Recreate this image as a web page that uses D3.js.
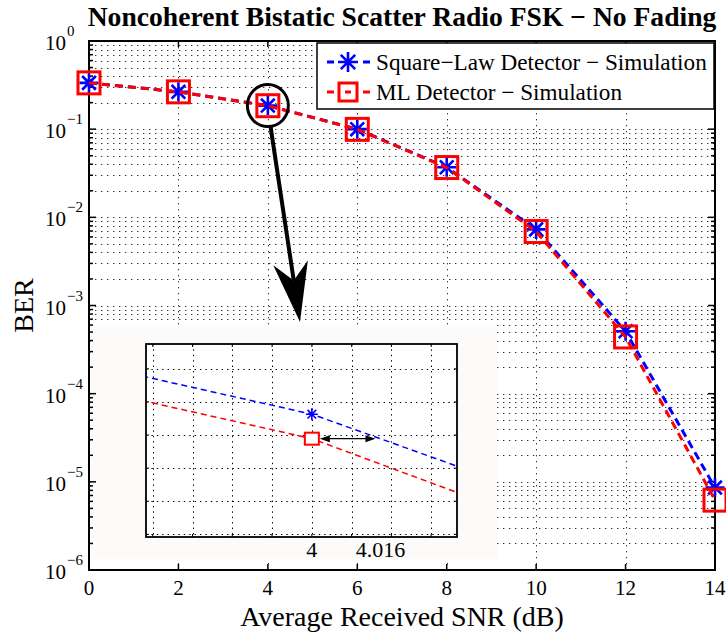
<!DOCTYPE html>
<html>
<head>
<meta charset="utf-8">
<script src="https://cdn.jsdelivr.net/npm/d3@7/dist/d3.min.js"></script>
<style>
  body { margin: 0; background: #fff; }
  svg { display: block; font-family: "Liberation Serif", "Times New Roman", serif; }
</style>
</head>
<body>
<svg id="chart" width="726" height="635"></svg>
<script>
// Average received SNR (dB) at which each receiver was simulated
const snr = [0, 2, 4, 6, 8, 10, 12, 14];
// Bit error rate, square-law detector
const berSquareLaw = [0.335, 0.265, 0.185, 0.100, 0.0370, 0.0073, 5.1e-4, 8.6e-6];
// Bit error rate, ML detector
const berML = [0.335, 0.265, 0.1845, 0.0995, 0.0367, 0.0069, 4.4e-4, 6.2e-6];

const xTickValues = [0, 2, 4, 6, 8, 10, 12, 14];
const yDecadeExponents = [-6, -5, -4, -3, -2, -1, 0];

// Close-up around 4 dB
const insetSnr = [3.95, 4, 4.04];
const insetSquareLaw = [0.18698, 0.18563, 0.18391];
const insetML = [0.18624, 0.18489, 0.18311];
const insetMarkerSnr = 4;
const insetLabelValues = [4, 4.016];

const seriesNames = ["Square\u2212Law Detector \u2212 Simulation", "ML Detector \u2212 Simulation"];
const titleText = "Noncoherent Bistatic Scatter Radio FSK \u2212 No Fading";

const BLUE = "#0000ff", RED = "#ff0000";
const svg = d3.select("#chart");

const plot = { left: 89, right: 715, top: 41, bottom: 570 };
const x = d3.scaleLinear().domain([0, 14]).range([plot.left, plot.right]);
const y = d3.scaleLog().domain([1e-6, 1]).range([plot.bottom, plot.top]);

// ---- dotted grid ----
const gridY = [];
yDecadeExponents.slice(0, -1).forEach(e => {
  for (let m = 1; m < 10; m++) gridY.push(m * Math.pow(10, e));
});
gridY.push(1);
const grid = svg.append("g").attr("stroke", "#333").attr("stroke-width", 1)
  .attr("stroke-dasharray", "1.4,4.6");
grid.selectAll("line.gy").data(gridY.filter(v => v > 1e-6 && v < 1)).join("line")
  .attr("x1", plot.left).attr("x2", plot.right)
  .attr("y1", d => Math.round(y(d)) + 0.5).attr("y2", d => Math.round(y(d)) + 0.5);
grid.selectAll("line.gx").data(xTickValues.slice(1, -1)).join("line")
  .attr("x1", d => Math.round(x(d)) + 0.5).attr("x2", d => Math.round(x(d)) + 0.5)
  .attr("y1", plot.top).attr("y2", plot.bottom);

// ---- inset backdrop ----
const insetBg = { x: 91, y: 325, w: 406, h: 234 };
svg.append("rect").attr("x", insetBg.x).attr("y", insetBg.y)
  .attr("width", insetBg.w).attr("height", insetBg.h).attr("fill", "#fcfbf9");

// ---- axes box and ticks ----
const axes = svg.append("g").attr("stroke", "#000").attr("stroke-width", 1.5);
axes.append("rect").attr("x", plot.left).attr("y", plot.top)
  .attr("width", plot.right - plot.left).attr("height", plot.bottom - plot.top)
  .attr("fill", "none").attr("stroke-width", 2);
const majorY = yDecadeExponents.map(e => Math.pow(10, e));
gridY.forEach(v => {
  const len = majorY.some(m => Math.abs(Math.log10(m) - Math.log10(v)) < 1e-9) ? 7 : 4;
  const yy = y(v);
  axes.append("line").attr("x1", plot.left).attr("x2", plot.left + len).attr("y1", yy).attr("y2", yy);
  axes.append("line").attr("x1", plot.right).attr("x2", plot.right - len).attr("y1", yy).attr("y2", yy);
});
xTickValues.forEach(v => {
  const xx = x(v);
  axes.append("line").attr("x1", xx).attr("x2", xx).attr("y1", plot.bottom).attr("y2", plot.bottom - 6);
  axes.append("line").attr("x1", xx).attr("x2", xx).attr("y1", plot.top).attr("y2", plot.top + 6);
});

// tick labels
svg.append("g").selectAll("text").data(xTickValues).join("text")
  .attr("x", d => x(d)).attr("y", plot.bottom + 25)
  .attr("text-anchor", "middle").attr("font-size", 21).text(d => d);

const yl = svg.append("g");
yDecadeExponents.forEach(e => {
  const yy = y(Math.pow(10, e));
  yl.append("text").attr("x", 66).attr("y", yy + 9).attr("text-anchor", "end")
    .attr("font-size", 21).text("10");
  yl.append("text").attr("x", 67).attr("y", yy - 5).attr("font-size", 15)
    .text(e < 0 ? "\u2212" + Math.abs(e) : String(e));
});

// axis titles
svg.append("text").attr("x", (plot.left + plot.right) / 2).attr("y", 626)
  .attr("text-anchor", "middle").attr("font-size", 28).text("Average Received SNR (dB)");
svg.append("text").attr("transform", `translate(33,${(plot.top + plot.bottom) / 2}) rotate(-90)`)
  .attr("text-anchor", "middle").attr("font-size", 28).text("BER");
svg.append("text").attr("x", (plot.left + plot.right) / 2).attr("y", 26)
  .attr("text-anchor", "middle").attr("font-size", 27.6).attr("font-weight", "bold").text(titleText);

// ---- markers ----
function starPath(s) {
  const d = s * 0.72;
  return `M${-s},0L${s},0M0,${-s}L0,${s}M${-d},${-d}L${d},${d}M${-d},${d}L${d},${-d}`;
}

// ---- data series ----
const line = d3.line().x((d, i) => x(snr[i])).y(d => y(d));
svg.append("path").datum(berSquareLaw).attr("d", line).attr("fill", "none")
  .attr("stroke", BLUE).attr("stroke-width", 3).attr("stroke-dasharray", "8,5");
svg.append("g").selectAll("path").data(berSquareLaw).join("path")
  .attr("transform", (d, i) => `translate(${x(snr[i])},${y(d)})`)
  .attr("d", starPath(9.5)).attr("fill", "none").attr("stroke", BLUE).attr("stroke-width", 2.6);
svg.append("path").datum(berML).attr("d", line).attr("fill", "none")
  .attr("stroke", RED).attr("stroke-width", 3).attr("stroke-dasharray", "8,5");
svg.append("g").selectAll("rect").data(berML).join("rect")
  .attr("x", (d, i) => x(snr[i]) - 11).attr("y", d => y(d) - 11)
  .attr("width", 22).attr("height", 22)
  .attr("fill", "none").attr("stroke", RED).attr("stroke-width", 3);

// ---- legend ----
const lg = svg.append("g");
lg.append("rect").attr("x", 317).attr("y", 43).attr("width", 397).attr("height", 66)
  .attr("fill", "#fff").attr("stroke", "#000").attr("stroke-width", 1.5);
const rows = [62, 92];
[BLUE, RED].forEach((c, k) => {
  const ry = rows[k];
  [[327, 334], [345, 351], [363, 370]].forEach(([a, b]) =>
    lg.append("line").attr("x1", a).attr("x2", b).attr("y1", ry).attr("y2", ry)
      .attr("stroke", c).attr("stroke-width", 3));
  if (k === 0) {
    lg.append("path").attr("transform", `translate(348,${ry})`).attr("d", starPath(10))
      .attr("fill", "none").attr("stroke", c).attr("stroke-width", 2.6);
  } else {
    lg.append("rect").attr("x", 339).attr("y", ry - 9).attr("width", 18).attr("height", 18)
      .attr("fill", "none").attr("stroke", c).attr("stroke-width", 3);
  }
  lg.append("text").attr("x", 376).attr("y", ry + 8).attr("font-size", 23.2).text(seriesNames[k]);
});

// ---- highlight ring and pointer ----
const cx = x(4), cy = y(berSquareLaw[2]);
svg.append("ellipse").attr("cx", cx).attr("cy", cy).attr("rx", 20.5).attr("ry", 21)
  .attr("fill", "none").attr("stroke", "#000").attr("stroke-width", 3);
const start = [cx + 2.7, cy + 21];
const tip = [300, insetBg.y - 3];
const L = Math.hypot(tip[0] - start[0], tip[1] - start[1]);
const u = [(tip[0] - start[0]) / L, (tip[1] - start[1]) / L];
const n = [u[1], -u[0]];
const notch = [tip[0] - 42 * u[0], tip[1] - 42 * u[1]];
const back = [tip[0] - 60 * u[0], tip[1] - 60 * u[1]];
svg.append("line").attr("x1", start[0]).attr("y1", start[1]).attr("x2", notch[0]).attr("y2", notch[1])
  .attr("stroke", "#000").attr("stroke-width", 4);
svg.append("path").attr("fill", "#000").attr("d",
  `M${tip[0]},${tip[1]}L${back[0] + 17 * n[0]},${back[1] + 17 * n[1]}L${notch[0]},${notch[1]}` +
  `L${back[0] - 18 * n[0]},${back[1] - 18 * n[1]}Z`);

// ---- inset axes ----
const ib = { left: 146, top: 344, right: 457, bottom: 537 };
const ix = d3.scaleLinear().domain([3.9583, 4.0365]).range([ib.left, ib.right]);
const iy = d3.scaleLinear().domain([0.18192, 0.18775]).range([ib.bottom, ib.top]);
const inset = svg.append("g");
inset.append("rect").attr("x", ib.left).attr("y", ib.top)
  .attr("width", ib.right - ib.left).attr("height", ib.bottom - ib.top).attr("fill", "#fff");
const ig = inset.append("g").attr("stroke", "#000").attr("stroke-width", 1)
  .attr("stroke-dasharray", "1.4,4");
ig.selectAll("line.v").data(ix.ticks(8)).join("line")
  .attr("x1", d => Math.round(ix(d)) + 0.5).attr("x2", d => Math.round(ix(d)) + 0.5)
  .attr("y1", ib.top).attr("y2", ib.bottom);
ig.selectAll("line.h").data(iy.ticks(6)).join("line")
  .attr("x1", ib.left).attr("x2", ib.right)
  .attr("y1", d => Math.round(iy(d)) + 0.5).attr("y2", d => Math.round(iy(d)) + 0.5);
const it = inset.append("g").attr("stroke", "#000").attr("stroke-width", 1);
ix.ticks(8).forEach(v => {
  it.append("line").attr("x1", ix(v)).attr("x2", ix(v)).attr("y1", ib.bottom).attr("y2", ib.bottom - 3);
  it.append("line").attr("x1", ix(v)).attr("x2", ix(v)).attr("y1", ib.top).attr("y2", ib.top + 3);
});
iy.ticks(6).forEach(v => {
  it.append("line").attr("x1", ib.left).attr("x2", ib.left + 3).attr("y1", iy(v)).attr("y2", iy(v));
  it.append("line").attr("x1", ib.right).attr("x2", ib.right - 3).attr("y1", iy(v)).attr("y2", iy(v));
});

svg.append("clipPath").attr("id", "insetClip").append("rect")
  .attr("x", ib.left).attr("y", ib.top).attr("width", ib.right - ib.left).attr("height", ib.bottom - ib.top);
const iline = d3.line().x((d, i) => ix(insetSnr[i])).y(d => iy(d));
const ic = inset.append("g").attr("clip-path", "url(#insetClip)");
ic.append("path").datum(insetSquareLaw).attr("d", iline).attr("fill", "none")
  .attr("stroke", BLUE).attr("stroke-width", 1.5).attr("stroke-dasharray", "6,4");
ic.append("path").datum(insetML).attr("d", iline).attr("fill", "none")
  .attr("stroke", RED).attr("stroke-width", 1.5).attr("stroke-dasharray", "6,4");

const mi = insetSnr.indexOf(insetMarkerSnr);
inset.append("path").attr("transform", `translate(${ix(insetMarkerSnr)},${iy(insetSquareLaw[mi])})`)
  .attr("d", starPath(6)).attr("fill", "none").attr("stroke", BLUE).attr("stroke-width", 1.6);
inset.append("rect").attr("x", ix(insetMarkerSnr) - 7).attr("y", iy(insetML[mi]) - 6)
  .attr("width", 14).attr("height", 12).attr("fill", "#fff").attr("stroke", RED).attr("stroke-width", 2);

// double-headed arrow between equal-BER points
const ay = iy(insetML[mi]);
const ax0 = ix(insetLabelValues[0]) + 8, ax1 = ix(insetLabelValues[1]);
inset.append("line").attr("x1", ax0 + 6).attr("x2", ax1 - 6).attr("y1", ay).attr("y2", ay)
  .attr("stroke", "#000").attr("stroke-width", 1.2);
inset.append("path").attr("fill", "#000")
  .attr("d", `M${ax0},${ay}L${ax0 + 10},${ay - 3.5}L${ax0 + 10},${ay + 3.5}Z` +
             `M${ax1},${ay}L${ax1 - 10},${ay - 3.5}L${ax1 - 10},${ay + 3.5}Z`);

inset.append("rect").attr("x", ib.left).attr("y", ib.top)
  .attr("width", ib.right - ib.left).attr("height", ib.bottom - ib.top)
  .attr("fill", "none").attr("stroke", "#000").attr("stroke-width", 1.8);

inset.selectAll("text.il").data(insetLabelValues).join("text")
  .attr("x", (d, i) => ix(d) + (i ? 5 : 0)).attr("y", 557)
  .attr("text-anchor", "middle").attr("font-size", 22).text(d => d);
</script>
</body>
</html>
